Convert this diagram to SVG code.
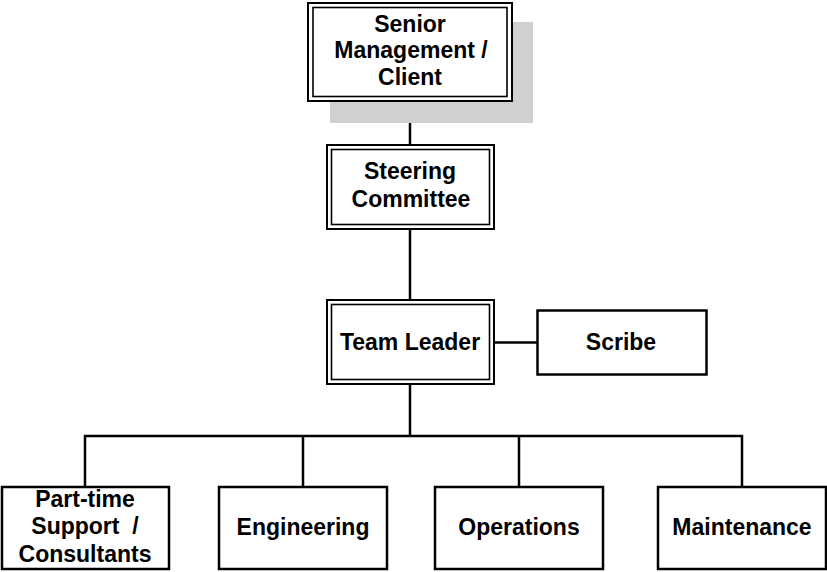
<svg xmlns="http://www.w3.org/2000/svg" width="827" height="572" viewBox="0 0 827 572">
<style>
.box{fill:#fff;stroke:#000;stroke-width:2.5}
.outer{fill:#fff;stroke:#000;stroke-width:2}
.inner{fill:none;stroke:#000;stroke-width:1.6}
.lbl{font-family:"Liberation Sans",Arial,sans-serif;font-weight:bold;font-size:23px;fill:#000;text-anchor:middle}
.conn{fill:none;stroke:#000;stroke-width:2.5}
</style>
<rect width="827" height="572" fill="#fff"/>
<g id="connectors">
<line class="conn" x1="410" y1="101" x2="410" y2="145"/>
<line class="conn" x1="410" y1="229" x2="410" y2="300"/>
<line class="conn" x1="410" y1="384" x2="410" y2="436"/>
<line class="conn" x1="494" y1="342.5" x2="537" y2="342.5"/>
<polyline class="conn" points="85,487 85,436 742,436 742,487"/>
<line class="conn" x1="303" y1="436" x2="303" y2="487"/>
<line class="conn" x1="519" y1="436" x2="519" y2="487"/>
</g>
<g id="senior">
<rect x="330" y="22" width="203" height="101" fill="#d0d0d0"/>
<rect class="outer" x="308" y="3" width="204" height="98"/>
<rect class="inner" x="313" y="7.5" width="194" height="89"/>
<text class="lbl" x="410" y="31.5">Senior</text>
<text class="lbl" x="411" y="58">Management /</text>
<text class="lbl" x="410" y="84.5">Client</text>
</g>
<g id="steering">
<rect class="outer" x="327" y="145" width="167" height="84"/>
<rect class="inner" x="331.5" y="149.5" width="158" height="75"/>
<text class="lbl" x="410" y="178.5">Steering</text>
<text class="lbl" x="411" y="206.5">Committee</text>
</g>
<g id="teamleader">
<rect class="outer" x="327" y="300" width="167" height="84"/>
<rect class="inner" x="331.5" y="304.5" width="158" height="75"/>
<text class="lbl" x="410" y="349.5">Team Leader</text>
</g>
<g id="scribe">
<rect class="box" x="537.5" y="310.5" width="169" height="64"/>
<text class="lbl" x="621" y="349.5">Scribe</text>
</g>
<g id="parttime">
<rect class="box" x="2" y="487" width="167" height="82"/>
<text class="lbl" x="85" y="507">Part-time</text>
<text class="lbl" x="85" y="534">Support&#160;&#160;/</text>
<text class="lbl" x="85" y="561.5">Consultants</text>
</g>
<g id="engineering">
<rect class="box" x="219" y="487" width="168" height="82"/>
<text class="lbl" x="303" y="534.5">Engineering</text>
</g>
<g id="operations">
<rect class="box" x="435" y="487" width="168" height="82"/>
<text class="lbl" x="519" y="534.5">Operations</text>
</g>
<g id="maintenance">
<rect class="box" x="658" y="487" width="168" height="82"/>
<text class="lbl" x="742" y="534.5">Maintenance</text>
</g>
</svg>
